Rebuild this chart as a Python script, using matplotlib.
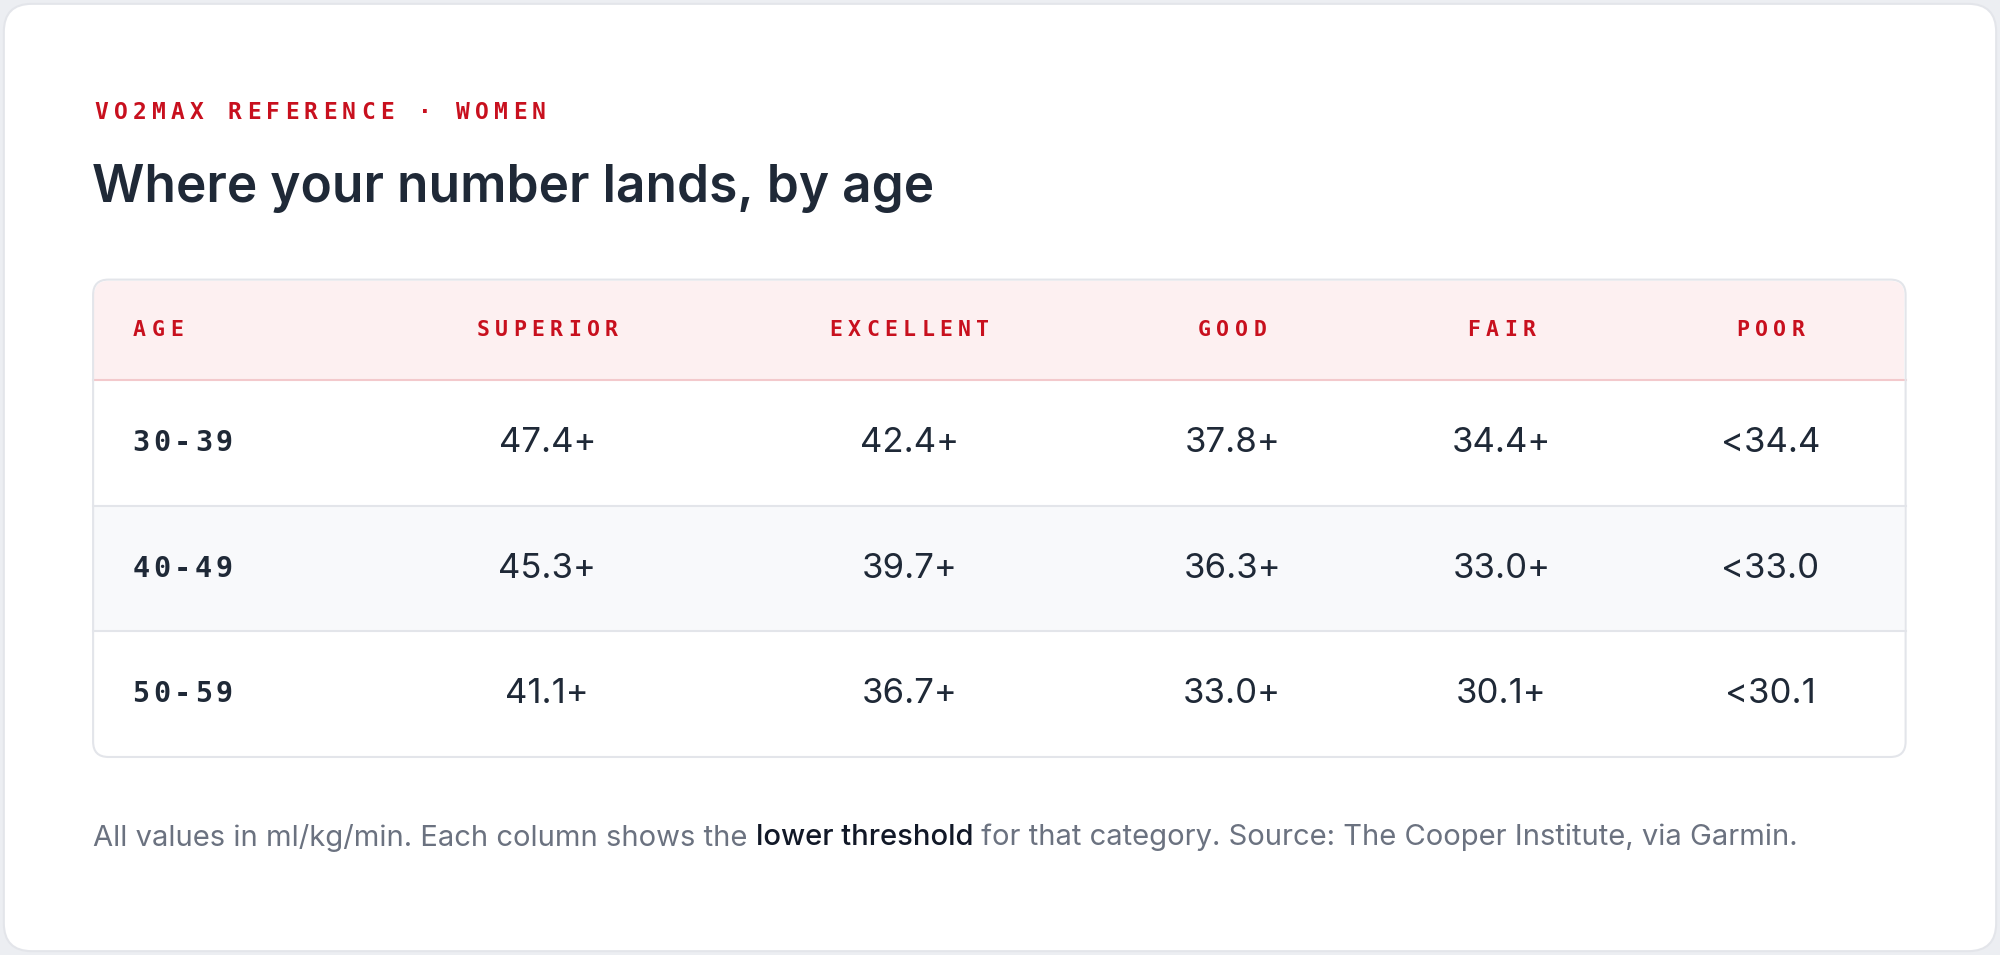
import matplotlib
matplotlib.use("Agg")
import matplotlib.pyplot as plt
from matplotlib.patches import FancyBboxPatch, Rectangle

kicker = "VO2MAX REFERENCE · WOMEN"
title = "Where your number lands, by age"
columns = ["AGE", "SUPERIOR", "EXCELLENT", "GOOD", "FAIR", "POOR"]
ages = ["30-39", "40-49", "50-59"]
superior = ["47.4+", "45.3+", "41.1+"]
excellent = ["42.4+", "39.7+", "36.7+"]
good = ["37.8+", "36.3+", "33.0+"]
fair = ["34.4+", "33.0+", "30.1+"]
poor = ["<34.4", "<33.0", "<30.1"]
foot_parts = [("All values in ml/kg/min. Each column shows the ", "#6b7280", "normal"),
              ("lower threshold", "#111827", "medium"),
              (" for that category. Source: The Cooper Institute, via Garmin.", "#6b7280", "normal")]

W, H = 1568, 748
fig = plt.figure(figsize=(20, 9.55), dpi=100)
fig.patch.set_facecolor("#eceef2")
ax = fig.add_axes([0, 0, 1, 1])
ax.set_xlim(0, W); ax.set_ylim(H, 0); ax.axis("off")

RED = "#c8101e"; DARK = "#1f2937"; MONO = "DejaVu Sans Mono"; SANS = "Inter"


def spaced(x, y, s, size, adv, color, ha="left", z=5):
    n = len(s)
    for i, ch in enumerate(s):
        if ha == "left":
            cx = x + adv * 0.45 + i * adv
        else:
            cx = x + (i - (n - 1) / 2) * adv
        ax.text(cx, y, ch, family=MONO, weight="bold", color=color, fontsize=size,
                va="center", ha="center", zorder=z)


ax.add_patch(FancyBboxPatch((3, 3), W - 6, H - 6, boxstyle="round,pad=0,rounding_size=22",
                            fc="white", ec="#e3e5ea", lw=1.5))

spaced(73, 88, kicker, 16.5, 14.9, RED)
ax.text(72, 148, title, family=SANS, weight="semibold", color=DARK, fontsize=37, va="center", ha="left")

x0, x1 = 73, 1494
ytop, yhead, rowh = 219, 298, 98.3
ybot = yhead + 3 * rowh
ax.add_patch(FancyBboxPatch((x0, ytop), x1 - x0, ybot - ytop, boxstyle="round,pad=0,rounding_size=12",
                            fc="white", ec="none", zorder=1))
ax.add_patch(Rectangle((x0 + 1, ytop + 10), x1 - x0 - 2, yhead - ytop - 10, fc="#fdf0f1", ec="none", zorder=2))
ax.add_patch(FancyBboxPatch((x0 + 1, ytop + 1), x1 - x0 - 2, 30, boxstyle="round,pad=0,rounding_size=11",
                            fc="#fdf0f1", ec="none", zorder=2))
ax.add_patch(Rectangle((x0 + 1, yhead + rowh), x1 - x0 - 2, rowh, fc="#f8f9fb", ec="none", zorder=2))
ax.plot([x0, x1], [yhead, yhead], color="#f3c9cc", lw=1.5, zorder=3)
for i in (1, 2):
    ax.plot([x0, x1], [yhead + i * rowh] * 2, color="#e3e5ea", lw=1.5, zorder=3)
ax.add_patch(FancyBboxPatch((x0, ytop), x1 - x0, ybot - ytop, boxstyle="round,pad=0,rounding_size=12",
                            fc="none", ec="#e3e5ea", lw=1.5, zorder=4))

colx = [103, 429, 713, 966, 1177, 1388]
hy = (ytop + yhead) / 2
for j, c in enumerate(columns):
    spaced(colx[j], hy, c, 15.5, 14.4, RED, ha="left" if j == 0 else "center")
data = [superior, excellent, good, fair, poor]
for i, a in enumerate(ages):
    cy = yhead + (i + 0.5) * rowh
    spaced(colx[0], cy, a, 20.5, 16.4, DARK)
    for j, col in enumerate(data):
        ax.text(colx[j + 1], cy, col[i], family=SANS, color=DARK, fontsize=25, va="center", ha="center", zorder=5)

fig.canvas.draw()
r = fig.canvas.get_renderer()
x = 73
inv = ax.transData.inverted()
for s, c, w in foot_parts:
    t = ax.text(x, 656, s, family=SANS, weight=w, color=c, fontsize=21, va="center", ha="left")
    bb = t.get_window_extent(r)
    x = inv.transform((bb.x1, 0))[0]

fig.savefig("out.png", dpi=100, facecolor=fig.get_facecolor())
